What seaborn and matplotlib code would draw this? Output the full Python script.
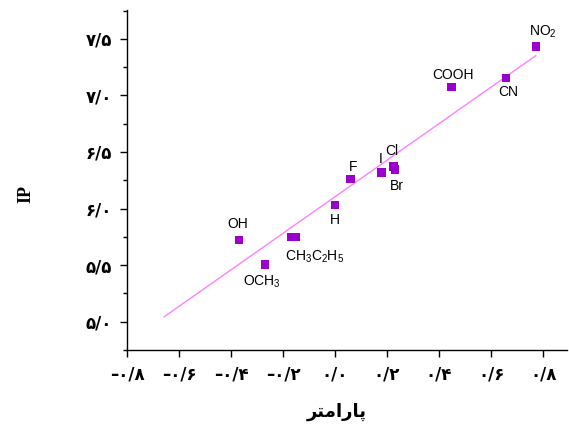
import numpy as np
import pandas as pd
import matplotlib
matplotlib.use('Agg')
import matplotlib.pyplot as plt
import seaborn as sns

# substituent parameter vs IP
substituents = ['NO$_2$', 'CN', 'COOH', 'F', 'I', 'Cl', 'Br', 'H', 'OH', 'CH$_3$', 'C$_2$H$_5$', 'OCH$_3$']
param = [0.773, 0.657, 0.447, 0.060, 0.178, 0.224, 0.231, 0.0, -0.369, -0.170, -0.151, -0.269]
ip = [7.43, 7.155, 7.076, 6.261, 6.32, 6.373, 6.346, 6.03, 5.722, 5.749, 5.749, 5.505]

# fitted line end points
fit_x = [-0.658, 0.773]
fit_y = [5.042, 7.353]

x_ticks = [-0.8, -0.6, -0.4, -0.2, 0.0, 0.2, 0.4, 0.6, 0.8]
y_ticks = [5.0, 5.5, 6.0, 6.5, 7.0, 7.5]

# label offsets in pixels (dx right, dy down)
label_offsets = [(7, -15), (2, 14), (2, -12), (2, -12), (-1, -13), (-1, -15),
                 (2, 17), (0, 15), (-1, -16), (8, 20), (32, 20), (-3, 17)]

fa_digits = str.maketrans('0123456789.-', '۰۱۲۳۴۵۶۷۸۹/–')


def fa_num(v, nd=1):
    return f'{v:.{nd}f}'.translate(fa_digits)


# "پارامتر" pre-shaped, visual order (no bidi in matplotlib)
xlabel = '\uFEAE\uFE98\uFEE3\uFE8D\uFEAD\uFE8E\uFB58'

df = pd.DataFrame({'name': substituents, 'param': param, 'ip': ip})
fit = pd.DataFrame({'x': fit_x, 'y': fit_y})

sns.set_style('ticks')
plt.rcParams['mathtext.default'] = 'regular'
plt.rcParams['text.color'] = 'black'
plt.rcParams['xtick.color'] = 'black'
plt.rcParams['ytick.color'] = 'black'

fig = plt.figure(figsize=(5.69, 4.25), dpi=100)
ax = fig.add_axes([127 / 569, 75 / 425, 440 / 569, 340 / 425])

sns.lineplot(data=fit, x='x', y='y', ax=ax, color='#FF80FF', linewidth=1)
sns.scatterplot(data=df, x='param', y='ip', ax=ax, marker='s', s=38,
                color='#9900CC', edgecolor='none', zorder=3)

for name, px, py, (dx, dy) in zip(substituents, param, ip, label_offsets):
    ax.annotate(name, (px, py), xytext=(dx * 0.72, -dy * 0.72),
                textcoords='offset points', ha='center', va='center',
                fontsize=10, family='Liberation Sans', color='black')

ax.set_xlim(-0.8, 0.892)
ax.set_ylim(4.76, 7.755)
ax.set_xticks(x_ticks)
ax.set_xticklabels([fa_num(v) for v in x_ticks])
ax.set_yticks(y_ticks)
ax.set_yticklabels([fa_num(v) for v in y_ticks])
ax.set_yticks(np.arange(4.75, 7.76, 0.25), minor=True)

for lab in ax.get_xticklabels() + ax.get_yticklabels():
    lab.set_family('DejaVu Sans')
    lab.set_fontweight('bold')
    lab.set_fontsize(12)
    lab.set_color('black')

ax.tick_params(axis='both', which='major', direction='out', length=5, width=1,
               color='black', pad=6)
ax.tick_params(axis='y', which='minor', direction='out', length=3, width=1, color='black')

for side in ['top', 'right']:
    ax.spines[side].set_visible(False)
for side in ['left', 'bottom']:
    ax.spines[side].set_color('black')
    ax.spines[side].set_linewidth(1)

ax.set_xlabel('')
ax.set_ylabel('')
fig.text(337 / 569, 1 - 412 / 425, xlabel, ha='center', va='center',
         fontsize=13, fontweight='bold', family='DejaVu Sans')
fig.text(26 / 569, 1 - 194 / 425, 'IP', ha='center', va='center', rotation=90,
         fontsize=13, fontweight='bold', family='Liberation Serif')

fig.savefig('out.png', dpi=100)
